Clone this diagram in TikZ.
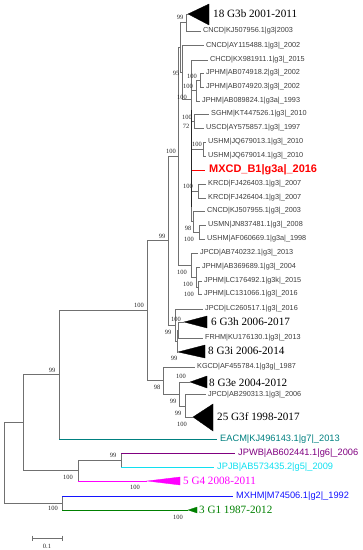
\documentclass[tikz,border=0pt]{standalone}
\usepackage{fontspec}
\setmainfont{Liberation Serif}
\newfontfamily\arialf{Liberation Sans}
\definecolor{treegray}{RGB}{112,112,112}
\definecolor{leafgray}{RGB}{60,60,60}
\definecolor{tealc}{RGB}{0,128,128}
\definecolor{purplec}{RGB}{128,0,128}
\definecolor{cyanc}{RGB}{16,224,240}
\definecolor{magc}{RGB}{255,0,255}
\definecolor{bluec}{RGB}{20,20,255}
\definecolor{greenc}{RGB}{0,128,0}
\definecolor{redc}{RGB}{255,0,0}
\begin{document}
\begin{tikzpicture}[x=1bp,y=-1bp,
  br/.style={draw=treegray, line width=0.7bp},
  leaf/.style={anchor=west, inner xsep=2bp, inner ysep=0pt, font=\arialf\fontsize{7.3}{8}\selectfont, text=leafgray},
  bigleaf/.style={anchor=west, inner xsep=3bp, inner ysep=0pt, font=\arialf\fontsize{9.3}{10}\selectfont},
  grp/.style={anchor=west, inner sep=0pt, font=\fontsize{11.2}{12}\selectfont},
  bs/.style={inner sep=0pt, font=\fontsize{6.5}{7}\selectfont, text=black!85},
  tri/.style={fill=black, draw=black, line width=0.3bp}]
\useasboundingbox (0,0) rectangle (362,550);
% internal nodes
\coordinate (R) at (4,462.5);
\coordinate (T1) at (23,422.5);
\coordinate (T2) at (62,503);
\coordinate (U1) at (59,374.5);
\coordinate (U2) at (78,470.5);
\coordinate (V1) at (121,460);
\coordinate (W1) at (147,310);
\coordinate (Y1) at (163,380.5);
\coordinate (Z1) at (179,394);
\coordinate (Z2) at (185,406);
\coordinate (X168) at (168,240.5);
\coordinate (Xh) at (175,325);
\coordinate (Xh1) at (177,341);
\coordinate (Xh2) at (178,330);
\coordinate (X178) at (178,156);
\coordinate (J1) at (191,265);
\coordinate (J2) at (196,277);
\coordinate (J3) at (198,287.5);
\coordinate (X180) at (180,47);
\coordinate (NB) at (186,22.5);
\coordinate (X182) at (182,72);
\coordinate (P) at (191,99);
\coordinate (Q1b) at (196,90.5);
\coordinate (Q1c) at (200,80);
\coordinate (S) at (194,121);
\coordinate (UH) at (203,149);
\coordinate (KR) at (198,191);
\coordinate (Wn) at (193,221.5);
\coordinate (UM) at (199,232);
% triangle tips
\coordinate (tB) at (188,14);
\coordinate (tH) at (184,322);
\coordinate (tI) at (178,352);
\coordinate (tE) at (190,382);
\coordinate (tF) at (193,417);
\coordinate (tG4) at (147,481);
\coordinate (tG1) at (188,510);
% leaves
\node[leaf] (lKJ956) at (201,31) {CNCD|KJ507956.1|g3|2003};
\node[leaf] (lAY488) at (204,45.5) {CNCD|AY115488.1|g3|\_2002};
\node[leaf] (lCH) at (208,60) {CHCD|KX981911.1|g3|\_2015};
\node[leaf] (l918) at (204,73) {JPHM|AB074918.2|g3|\_2002};
\node[leaf] (l920) at (204,87) {JPHM|AB074920.3|g3|\_2002};
\node[leaf] (l824) at (200,101) {JPHM|AB089824.1|g3a|\_1993};
\node[leaf] (lSG) at (209,114) {SGHM|KT447526.1|g3|\_2010};
\node[leaf] (lUSCD) at (204,128) {USCD|AY575857.1|g3|\_1997};
\node[leaf] (l013) at (206,142) {USHM|JQ679013.1|g3|\_2010};
\node[leaf] (l014) at (206,156) {USHM|JQ679014.1|g3|\_2010};
\node[anchor=west, inner xsep=4bp, inner ysep=0pt, font=\arialf\bfseries\fontsize{11}{12}\selectfont, text=redc] (lMX) at (205,170) {MXCD\_B1|g3a|\_2016};
\node[leaf] (l403) at (206,184) {KRCD|FJ426403.1|g3|\_2007};
\node[leaf] (l404) at (206,198) {KRCD|FJ426404.1|g3|\_2007};
\node[leaf] (l955) at (205,211) {CNCD|KJ507955.1|g3|\_2003};
\node[leaf] (lMN) at (206,225) {USMN|JN837481.1|g3|\_2008};
\node[leaf] (l669) at (205,239) {USHM|AF060669.1|g3a|\_1998};
\node[leaf] (l232) at (198,253) {JPCD|AB740232.1|g3|\_2013};
\node[leaf] (l689) at (200,267) {JPHM|AB369689.1|g3|\_2004};
\node[leaf] (l492) at (202,281) {JPHM|LC176492.1|g3k|\_2015};
\node[leaf] (l066) at (202,294) {JPHM|LC131066.1|g3|\_2016};
\node[leaf] (l517) at (203,309) {JPCD|LC260517.1|g3|\_2016};
\node[leaf] (lFR) at (203,338) {FRHM|KU176130.1|g3|\_2013};
\node[leaf] (lKG) at (195,367) {KGCD|AF455784.1|g3g|\_1987};
\node[leaf] (l313) at (206,394.5) {JPCD|AB290313.1|g3|\_2006};
\node[bigleaf, text=tealc] (lEA) at (217,439) {EACM|KJ496143.1|g7|\_2013};
\node[bigleaf, text=purplec] (lWB) at (235,453) {JPWB|AB602441.1|g6|\_2006};
\node[bigleaf, text=cyanc] (lJB) at (214,467) {JPJB|AB573435.2|g5|\_2009};
\node[bigleaf, text=bluec] (lMXH) at (233,496) {MXHM|M74506.1|g2|\_1992};
% collapsed clade labels
\node[grp] (gB) at (213,14) {18 G3b 2001-2011};
\node[grp] (gH) at (211,322) {6 G3h 2006-2017};
\node[grp] (gI) at (208,351) {8 G3i 2006-2014};
\node[grp] (gE) at (209,383) {8 G3e 2004-2012};
\node[grp] (gF) at (217,417) {25 G3f 1998-2017};
\node[grp, text=magc] (gG4) at (183,481) {5 G4 2008-2011};
\node[grp, text=greenc] (gG1) at (199,510) {3 G1 1987-2012};
% triangles
\draw[tri] (tB) -- (209,4) -- (209,25) -- cycle;
\draw[tri] (tH) -- (207,316) -- (207,328) -- cycle;
\draw[tri] (tI) -- (205,345) -- (205,358) -- cycle;
\draw[tri] (tE) -- (207,376) -- (207,388) -- cycle;
\draw[tri] (tF) -- (213,404) -- (213,431) -- cycle;
\draw[fill=magc, draw=magc, line width=0.3bp] (tG4) -- (180,477) -- (180,485) -- cycle;
\draw[fill=greenc, draw=greenc, line width=0.3bp] (tG1) -- (197,507) -- (197,513) -- cycle;
% branches
\draw[br] (R) |- (T1);
\draw[br] (R) |- (T2);
\draw[br] (T2) -- (T2 |- lMXH.west);
\draw[draw=bluec, line width=0.7bp] (T2 |- lMXH.west) -- (lMXH.west);
\draw[br] (T2) -- (T2 |- tG1);
\draw[draw=greenc, line width=0.7bp] (T2 |- tG1) -- (tG1);
\draw[br] (T1) |- (U1);
\draw[br] (T1) |- (U2);
\draw[br] (U2) |- (V1);
\draw[br] (U2) -- (U2 |- tG4);
\draw[draw=magc, line width=0.7bp] (U2 |- tG4) -- (tG4);
\draw[br] (V1) -- (V1 |- lWB.west);
\draw[draw=purplec, line width=0.7bp] (V1 |- lWB.west) -- (lWB.west);
\draw[br] (V1) -- (V1 |- lJB.west);
\draw[draw=cyanc, line width=0.7bp] (V1 |- lJB.west) -- (lJB.west);
\draw[br] (U1) |- (W1);
\draw[br] (U1) -- (U1 |- lEA.west);
\draw[draw=tealc, line width=0.7bp] (U1 |- lEA.west) -- (lEA.west);
\draw[br] (W1) |- (X168);
\draw[br] (W1) |- (Y1);
\draw[br] (Y1) |- (lKG.west);
\draw[br] (Y1) |- (Z1);
\draw[br] (Z1) |- (tE);
\draw[br] (Z1) |- (Z2);
\draw[br] (Z2) |- (l313.west);
\draw[br] (Z2) |- (tF);
\draw[br] (X168) |- (X178);
\draw[br] (X168) |- (Xh);
\draw[br] (Xh) |- (l517.west);
\draw[br] (Xh) |- (Xh1);
\draw[br] (Xh1) |- (Xh2);
\draw[br] (Xh1) |- (tI);
\draw[br] (Xh2) |- (tH);
\draw[br] (Xh2) |- (lFR.west);
\draw[br] (X178) |- (X180);
\draw[br] (X178) |- (J1);
\draw[br] (J1) |- (l232.west);
\draw[br] (J1) |- (J2);
\draw[br] (J2) |- (l689.west);
\draw[br] (J2) |- (J3);
\draw[br] (J3) |- (l492.west);
\draw[br] (J3) |- (l066.west);
\draw[br] (X180) |- (NB);
\draw[br] (X180) |- (X182);
\draw[br] (NB) |- (tB);
\draw[br] (NB) |- (lKJ956.west);
\draw[br] (X182) |- (lAY488.west);
\draw[br] (X182) |- (P);
\draw[br] (P) |- (lCH.west);
\draw[br] (P) |- (Q1b);
\draw[br] (P) |- (S);
\draw[br] (P) |- (UH);
\draw[br] (P) -- (P |- lMX.west);
\draw[draw=redc, line width=0.9bp] (P |- lMX.west) -- (lMX.west);
\draw[br] (P) |- (KR);
\draw[br] (P) |- (Wn);
\draw[br] (Q1b) |- (Q1c);
\draw[br] (Q1b) |- (l824.west);
\draw[br] (Q1c) |- (l918.west);
\draw[br] (Q1c) |- (l920.west);
\draw[br] (S) |- (lSG.west);
\draw[br] (S) |- (lUSCD.west);
\draw[br] (UH) |- (l013.west);
\draw[br] (UH) |- (l014.west);
\draw[br] (KR) |- (l403.west);
\draw[br] (KR) |- (l404.west);
\draw[br] (Wn) |- (l955.west);
\draw[br] (Wn) |- (UM);
\draw[br] (UM) |- (lMN.west);
\draw[br] (UM) |- (l669.west);
% thick overlapping segment
\coordinate (th1) at (191.6,110);
\coordinate (th2) at (191.6,207);
\draw[line width=1.5bp, black!85] (th1) -- (th2);
% bootstrap values
\node[bs] (b1) at (180,17) {99};
\node[bs] (b2) at (176,73) {95};
\node[bs] (b3) at (192,76) {100};
\node[bs] (b4) at (188,86) {100};
\node[bs] (b5) at (182,97) {100};
\node[bs] (b6) at (187,117) {100};
\node[bs] (b7) at (186,126) {72};
\node[bs] (b8) at (171,151) {100};
\node[bs] (b9) at (197,144) {100};
\node[bs] (b10) at (188,186) {100};
\node[bs] (b11) at (188,228) {98};
\node[bs] (b12) at (189,239) {100};
\node[bs] (b13) at (162,236) {99};
\node[bs] (b14) at (182,272) {100};
\node[bs] (b15) at (188,284) {100};
\node[bs] (b16) at (189,294) {100};
\node[bs] (b17) at (176,319) {100};
\node[bs] (b18) at (168,332) {99};
\node[bs] (b19) at (174,358) {99};
\node[bs] (b20) at (139,305) {100};
\node[bs] (b21) at (181,376) {100};
\node[bs] (b22) at (157,387) {98};
\node[bs] (b23) at (173,401) {99};
\node[bs] (b24) at (178,413) {99};
\node[bs] (b25) at (182,424) {100};
\node[bs] (b26) at (52,370) {99};
\node[bs] (b27) at (113,455) {99};
\node[bs] (b28) at (68,477) {100};
\node[bs] (b29) at (135,487) {100};
\node[bs] (b30) at (53,508) {100};
\node[bs] (b31) at (178,517) {100};
% scale bar
\coordinate (sb1) at (32,538);
\coordinate (sb2) at (62,538);
\draw[br] (sb1) -- (sb2);
\draw[br] ([yshift=2.5bp]sb1) -- ([yshift=-2.5bp]sb1);
\draw[br] ([yshift=2.5bp]sb2) -- ([yshift=-2.5bp]sb2);
\node[bs] (sbl) at (47,546) {0.1};
\end{tikzpicture}
\end{document}
